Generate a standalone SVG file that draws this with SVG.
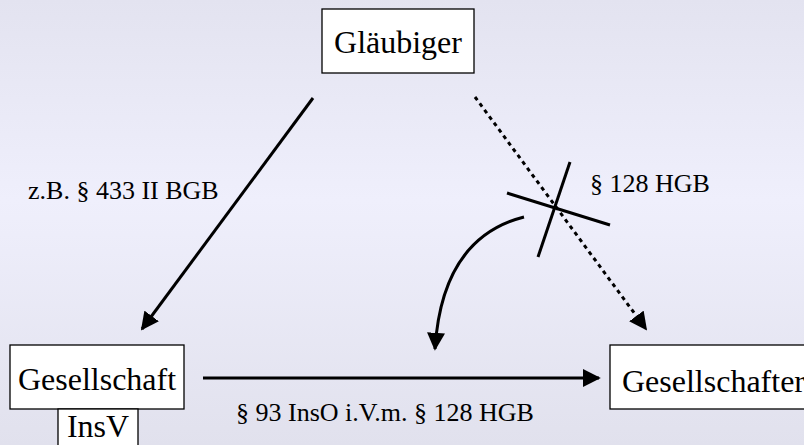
<svg xmlns="http://www.w3.org/2000/svg" width="804" height="445" viewBox="0 0 804 445">
<defs>
<linearGradient id="bg" x1="0" y1="0" x2="0" y2="1">
<stop offset="0" stop-color="#e3e3f0"/>
<stop offset="0.45" stop-color="#efeffc"/>
<stop offset="1" stop-color="#e1e1ed"/>
</linearGradient>
<marker id="ah" viewBox="0 0 10 10" refX="9" refY="5" markerWidth="6" markerHeight="6" markerUnits="strokeWidth" orient="auto">
<path d="M0,0 L10,5 L0,10 Z" fill="#000"/>
</marker>
<style>
.box{fill:#fff;stroke:#000;stroke-width:1.3}
.nt{font-family:"Liberation Serif","Times New Roman",serif;font-size:32px;fill:#000}
.lb{font-family:"Liberation Serif","Times New Roman",serif;font-size:26px;fill:#000}
.ln{stroke:#000;stroke-width:3;fill:none}
</style>
</defs>
<rect width="804" height="445" fill="url(#bg)"/>
<g id="glaeubiger">
<rect class="box" x="322" y="9" width="152" height="64"/>
<text class="nt" x="398" y="53" text-anchor="middle">Gläubiger</text>
</g>
<g id="gesellschaft">
<rect class="box" x="10" y="345" width="174" height="64"/>
<text class="nt" x="97" y="390" text-anchor="middle">Gesellschaft</text>
</g>
<g id="insv">
<rect class="box" x="58" y="409" width="80" height="40"/>
<text class="nt" x="98" y="437" text-anchor="middle">InsV</text>
</g>
<g id="gesellschafter">
<rect class="box" x="610" y="345" width="200" height="64"/>
<text class="nt" x="622" y="392">Gesellschafter</text>
</g>
<g id="connectors">
<line class="ln" x1="313" y1="98" x2="142" y2="329" marker-end="url(#ah)"/>
<line class="ln" x1="475" y1="97" x2="646" y2="329" stroke-dasharray="4 4" stroke-width="3.5" marker-end="url(#ah)"/>
<line class="ln" x1="203" y1="378" x2="599" y2="378" marker-end="url(#ah)"/>
<line class="ln" x1="507" y1="193" x2="610" y2="225"/>
<line class="ln" x1="570" y1="162" x2="538" y2="257"/>
<path class="ln" d="M524,217 Q442,238 435,349" marker-end="url(#ah)"/>
</g>
<g id="labels">
<text class="lb" x="28" y="199">z.B. § 433 II BGB</text>
<text class="lb" x="590" y="192">§ 128 HGB</text>
<text class="lb" x="236" y="421">§ 93 InsO i.V.m. § 128 HGB</text>
</g>
</svg>
